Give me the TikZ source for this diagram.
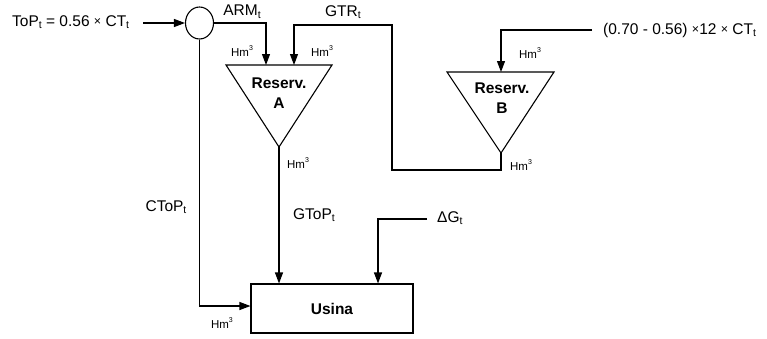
\documentclass[tikz,border=0pt]{standalone}
\usepackage{fontspec}
\setmainfont{Liberation Sans}
\usetikzlibrary{arrows.meta,shapes.geometric}

% subscript t, a small multiplication sign and the Hm^3 unit label
\newcommand\lowt{\raisebox{-0.17em}{\fontsize{10.5}{11}\selectfont t}}
\newcommand\tms{\raisebox{0.03em}{\fontsize{12.5}{12}\selectfont ×}}
\newcommand\hmc{Hm\raisebox{0.5em}{\fontsize{7}{7}\selectfont 3}}

\begin{document}
\begin{tikzpicture}[x=1pt,y=-1pt,
  flow/.style={line width=1.1pt},
  arr/.style={flow,-{Triangle[length=11pt,width=8pt]}},
  lbl/.style={inner sep=0pt,font=\fontsize{15.5}{17}\selectfont},
  unit/.style={inner sep=0pt,font=\fontsize{11.5}{13}\selectfont},
  boldlbl/.style={inner sep=0pt,align=center,font=\fontsize{15.5}{20}\selectfont\bfseries},
  reservoir/.style={flow,line join=miter}]
\useasboundingbox (0,0) rectangle (767,338);

% junction of the inflows
\node[draw,flow,ellipse,minimum width=28pt,minimum height=32pt,inner sep=0pt] (mix) at (199.5,23) {};

% reservoir A
\coordinate (aL) at (226,65);
\coordinate (aR) at (332,65);
\coordinate (aApex) at (279,147);
\draw[reservoir] (aL) -- (aR) -- (aApex) -- cycle;
\node[boldlbl] (resA) at (279,93) {Reserv.\\A};
\coordinate (aIn1) at (266,65);
\coordinate (aIn2) at (294,65);

% reservoir B
\coordinate (bL) at (447,72);
\coordinate (bR) at (554,72);
\coordinate (bApex) at (501,153);
\draw[reservoir] (bL) -- (bR) -- (bApex) -- cycle;
\node[boldlbl] (resB) at (502,98) {Reserv.\\B};
\coordinate (bIn) at (501,72);

% power plant
\node[draw,flow,minimum width=162pt,minimum height=49pt,inner sep=0pt,
      font=\fontsize{15.5}{18}\selectfont\bfseries] (usina) at (332,308.5) {Usina};

% inputs
\node[lbl,anchor=west] (top) at (12,22) {ToP\lowt{} = 0.56 \tms{} CT\lowt};
\coordinate (topEnd) at (143,23);
\node[lbl,anchor=west] (extra) at (603,30) {(0.70 - 0.56) \tms12 \tms{} CT\lowt};
\coordinate (extraEnd) at (592,30);
\node[lbl,anchor=west] (dg) at (437,218) {ΔG\lowt};
\coordinate (dgEnd) at (427,219);

% connectors
\draw[arr] (topEnd) -- (mix.west);
\draw[arr] (mix.east) -| (aIn1);
\draw[arr] (bApex) -- ++(0,17) -| (392,25) -| (aIn2);
\draw[arr] (extraEnd) -| (bIn);
\draw[arr] (aApex) -- (aApex |- usina.north);
\draw[arr] (dgEnd) -| (usina.north -| 378,0);
\draw[arr] (mix.south) |- (usina.west |- 0,306);

% flow labels
\node[lbl] (arm) at (242,12) {ARM\lowt};
\node[lbl] (gtr) at (343,12) {GTR\lowt};
\node[lbl] (gtop) at (314,215) {GToP\lowt};
\node[lbl] (ctop) at (166,207) {CToP\lowt};

% unit labels
\node[unit] (u1) at (242,51) {\hmc};
\node[unit] (u2) at (322,51) {\hmc};
\node[unit] (u3) at (298,163) {\hmc};
\node[unit] (u4) at (530,53) {\hmc};
\node[unit] (u5) at (521,165) {\hmc};
\node[unit] (u6) at (222,323) {\hmc};
\end{tikzpicture}
\end{document}
